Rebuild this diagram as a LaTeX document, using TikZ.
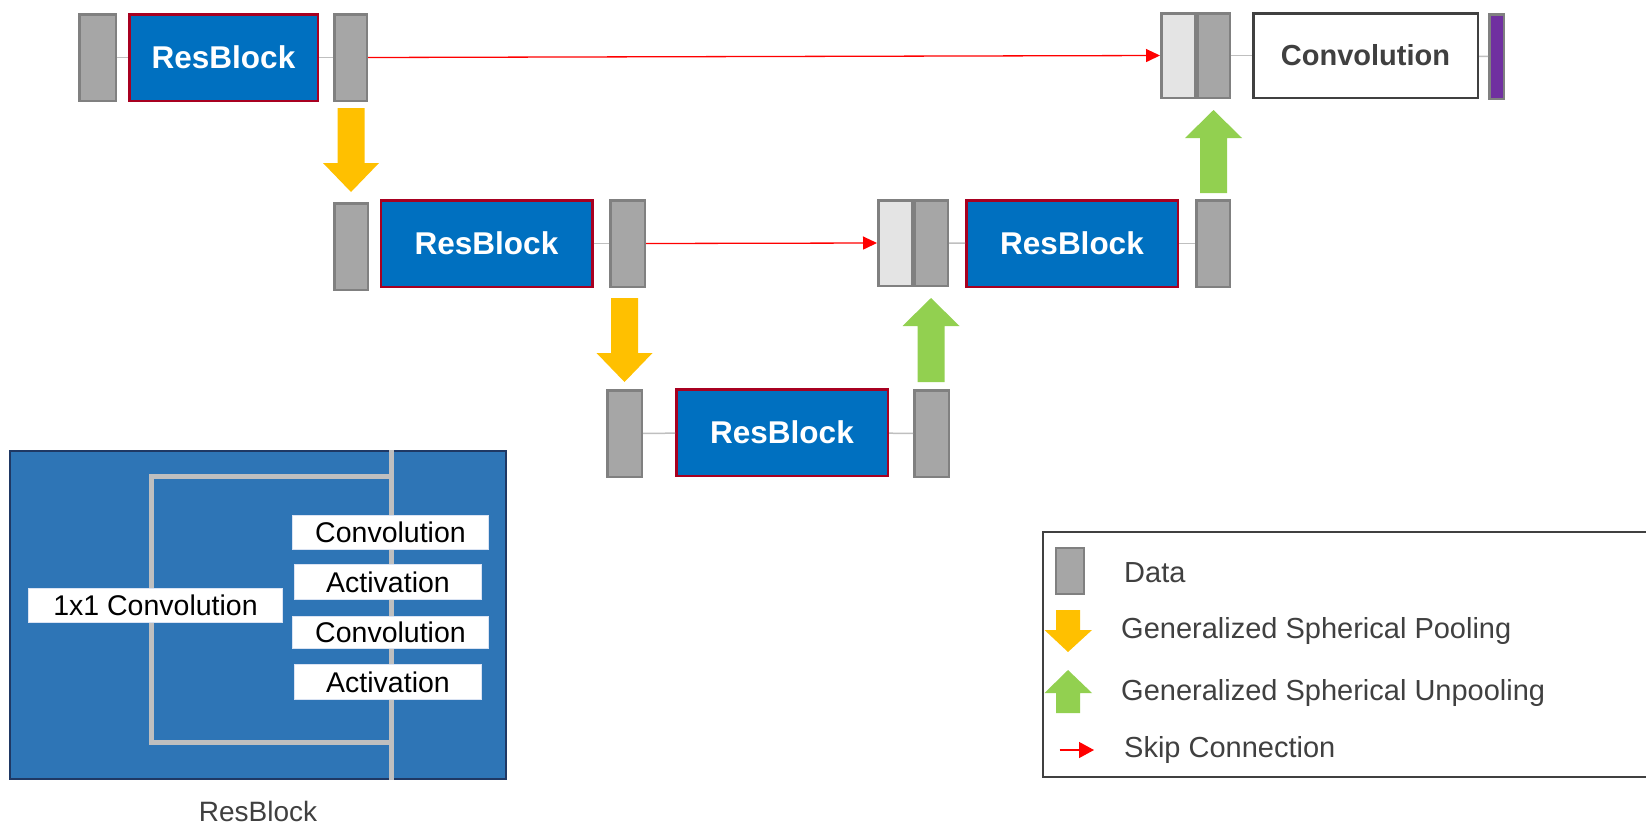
\documentclass[tikz,border=0pt]{standalone}
\usepackage{fontspec}
\setmainfont{Liberation Sans}
\usetikzlibrary{arrows.meta,calc}
\definecolor{dfill}{HTML}{A6A6A6}
\definecolor{dline}{HTML}{808080}
\definecolor{lfill}{HTML}{E4E4E4}
\definecolor{rbblue}{HTML}{0070C0}
\definecolor{rbred}{HTML}{A80020}
\definecolor{connc}{HTML}{BFBFBF}
\definecolor{yel}{HTML}{FFC000}
\definecolor{grn}{HTML}{92D050}
\definecolor{purp}{HTML}{7030A0}
\definecolor{txt}{HTML}{404040}
\definecolor{panelc}{HTML}{2E75B6}
\definecolor{navy}{HTML}{1F3864}
\definecolor{boxline}{HTML}{DAE3F3}
\newcommand\fatdown[3]{\fill[#1] let \p1=(#2), \p2=(#3) in
  (\x2-13.5pt,\y1) -- (\x2+13.5pt,\y1) -- (\x2+13.5pt,\y2+29pt) -- (\x2+28pt,\y2+29pt)
  -- (\x2,\y2) -- (\x2-28pt,\y2+29pt) -- (\x2-13.5pt,\y2+29pt) -- cycle;}
\newcommand\fatup[3]{\fill[#1] let \p1=(#2), \p2=(#3) in
  (\x2-13.5pt,\y1) -- (\x2+13.5pt,\y1) -- (\x2+13.5pt,\y2-28pt) -- (\x2+28.5pt,\y2-28pt)
  -- (\x2,\y2) -- (\x2-28.5pt,\y2-28pt) -- (\x2-13.5pt,\y2-28pt) -- cycle;}
\tikzset{
  data/.style={draw=dline, fill=dfill, line width=2.5pt, minimum width=33.5pt, minimum height=86.5pt, inner sep=0pt},
  light/.style={data, fill=lfill},
  rblock/.style={draw=rbred, fill=rbblue, line width=2.5pt, minimum width=211.5pt, minimum height=86.5pt, inner sep=0pt, text=white, font=\bfseries\fontsize{31.5}{36}\selectfont},
  convout/.style={draw=txt, fill=white, line width=2.5pt, minimum width=224.5pt, minimum height=84.5pt, inner sep=0pt, text=txt, font=\bfseries\fontsize{29}{34}\selectfont},
  conn/.style={draw=connc, line width=1.5pt},
  skip/.style={draw=red, line width=1.3pt, -{Triangle[length=14pt,width=13pt]}},
  inbox/.style={draw=boxline, fill=white, line width=1pt, inner sep=0pt, text=black, font=\fontsize{28.5}{34}\selectfont},
  pline/.style={draw=connc, line width=5pt},
  legtext/.style={anchor=west, text=txt, inner sep=0pt, font=\fontsize{29}{34}\selectfont},
}
\begin{document}
\begin{tikzpicture}[x=1pt,y=-1pt]
\useasboundingbox (0,0) rectangle (1646,828);
% ---- main network ----
\node[data, minimum width=36.5pt] (d1) at (97.5,57.5) {};
\node[rblock, minimum width=188.5pt] (rb1) at (223.5,57.5) {ResBlock};
\node[data, minimum width=32.5pt] (d2) at (350.5,57.5) {};

\node[data] (d3) at (351,246.5) {};
\node[rblock] (rb2) at (486.5,243.5) {ResBlock};
\node[data, minimum width=34.5pt] (d4) at (627.5,243.5) {};

\node[data, minimum width=34.5pt] (d5) at (624.5,433.5) {};
\node[rblock] (rb3) at (782,432.5) {ResBlock};
\node[data, minimum width=34.5pt] (d6) at (931.5,433.5) {};

\node[light, minimum height=85.5pt] (l1) at (895,243) {};
\node[data, minimum height=85.5pt] (d7) at (931,243) {};
\node[rblock] (rb4) at (1072,243.5) {ResBlock};
\node[data] (d8) at (1213,243.5) {};

\node[light, minimum height=84.5pt] (l2) at (1178,55.5) {};
\node[data, minimum width=32.5pt, minimum height=84.5pt] (d9) at (1213.5,55.5) {};
\node[convout] (conv) at (1365.5,55.5) {Convolution};
\node[data, fill=purp, minimum width=14.5pt, minimum height=84.5pt] (out) at (1496.5,56.5) {};

% thin connectors
\draw[conn] (d1) -- (rb1);
\draw[conn] (rb1) -- (d2);
\draw[conn] (rb2) -- (d4);
\draw[conn] (d5) -- (rb3);
\draw[conn] (rb3) -- (d6);
\draw[conn] (d7) -- (rb4);
\draw[conn] (rb4) -- (d8);
\draw[conn] (d9) -- (conv);
\draw[conn] (conv) -- (out);

% skip connections
\draw[skip] (d2.east) -- (l2.west);
\draw[skip] (d4.east) -- (l1.west);

% pooling / unpooling arrows
\fatdown{yel}{$(d2.south)+(0,6)$}{$(d3.north)+(0,-10)$}
\fatdown{yel}{$(d4.south)+(0,10)$}{$(d5.north)+(0,-7)$}
\fatup{grn}{$(d6.north)+(0,-7)$}{$(d7.south)+(0,11)$}
\fatup{grn}{$(d8.north)+(0,-6)$}{$(d9.south)+(0,11)$}

% ---- ResBlock detail panel ----
\node[draw=navy, fill=panelc, line width=2pt, minimum width=496pt, minimum height=328pt, inner sep=0pt] (panel) at (258,615) {};
\coordinate (tl) at (151,476);
\coordinate (tr) at (391,476);
\coordinate (bl) at (151,742);
\coordinate (br) at (391,742);
\coordinate (vt) at (391,450);
\coordinate (vb) at (391,780);
\draw[pline] (vt) -- (vb);
\draw[pline] (tr) -- (tl) -- (bl) -- (br);
\node[inbox, minimum width=254pt, minimum height=34pt] (c11) at (155.5,605.5) {1x1 Convolution};
\node[inbox, minimum width=196pt, minimum height=34pt] (cv1) at (390.5,532.5) {Convolution};
\node[inbox, minimum width=187pt, minimum height=35pt] (ac1) at (388,582) {Activation};
\node[inbox, minimum width=196pt, minimum height=32pt] (cv2) at (390.5,632.5) {Convolution};
\node[inbox, minimum width=187pt, minimum height=35pt] (ac2) at (388,682) {Activation};
\node[text=txt, inner sep=0pt, font=\fontsize{28}{32}\selectfont] (cap) at (258,811) {ResBlock};

% ---- legend ----
\draw[draw=txt, line width=2pt] (1646,532) -- (1043,532) -- (1043,777) -- (1646,777);
\node[data, line width=2pt, minimum width=28pt, minimum height=46pt] (ld) at (1070,571) {};
\fill[yel] (1056,610) -- (1080,610) -- (1080,630) -- (1092,630) -- (1068,652) -- (1044.5,630) -- (1056,630) -- cycle;
\fill[grn] (1056,713) -- (1080,713) -- (1080,693) -- (1092,693) -- (1068,670) -- (1044.5,693) -- (1056,693) -- cycle;
\coordinate (ls) at (1059.5,750);
\coordinate (le) at (1094,750);
\draw[draw=red, line width=1.3pt, -{Triangle[length=15pt,width=16pt]}] (ls) -- (le);
\node[legtext] (t1) at (1124,573) {Data};
\node[legtext] (t2) at (1121,631) {Generalized Spherical Pooling};
\node[legtext] (t3) at (1121,693) {Generalized Spherical Unpooling};
\node[legtext] (t4) at (1124,750) {Skip Connection};
\end{tikzpicture}
\end{document}
